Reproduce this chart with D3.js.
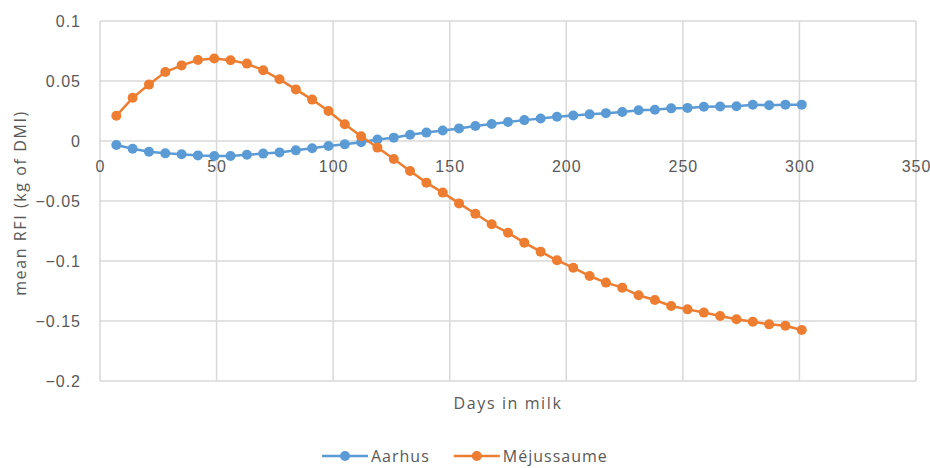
<!DOCTYPE html>
<html lang="en">
<head>
    <meta charset="UTF-8">
    <script src="https://d3js.org/d3.v7.min.js"></script>
    <style>
        body {
            margin: 0;
            background: #fff;
            font-family: "Open Sans", Arial, sans-serif;
        }
        .tick text {
            fill: #595959;
            font-size: 16px;
            letter-spacing: 1px;
        }
        .grid line {
            stroke: #d9d9d9;
            stroke-width: 1.5px;
        }
        .axis-title {
            fill: #595959;
            font-size: 16px;
            letter-spacing: 1.6px;
        }
    </style>
</head>
<body>
    <svg id="chart" width="930" height="468"></svg>

    <script>
        // days in milk (7 .. 301, weekly)
        const days = [7, 14, 21, 28, 35, 42, 49, 56, 63, 70, 77, 84, 91, 98, 105, 112, 119, 126, 133, 140, 147,
            154, 161, 168, 175, 182, 189, 196, 203, 210, 217, 224, 231, 238, 245, 252, 259, 266, 273, 280, 287, 294, 301];

        const aarhus = [-0.0033, -0.0064, -0.009, -0.0103, -0.011, -0.012, -0.0125, -0.0125, -0.0115, -0.0105, -0.0095,
            -0.0078, -0.006, -0.0042, -0.0028, -0.001, 0.0012, 0.0028, 0.0052, 0.007, 0.0088, 0.0105, 0.0125,
            0.0142, 0.0158, 0.0174, 0.0188, 0.0202, 0.0213, 0.0222, 0.0232, 0.0242, 0.0256, 0.026, 0.0272,
            0.0276, 0.0286, 0.0287, 0.029, 0.0302, 0.0298, 0.0303, 0.0303];

        const mejussaume = [0.021, 0.036, 0.047, 0.0575, 0.063, 0.0675, 0.0687, 0.0673, 0.0645, 0.059, 0.0514,
            0.043, 0.0345, 0.025, 0.014, 0.004, -0.0055, -0.015, -0.025, -0.0347, -0.043, -0.052, -0.0606,
            -0.0694, -0.0764, -0.0847, -0.0922, -0.0994, -0.1056, -0.1125, -0.118, -0.1222, -0.1286, -0.1325,
            -0.1375, -0.1403, -0.143, -0.1458, -0.1486, -0.1506, -0.1528, -0.154, -0.1575];

        const xTicks = [0, 50, 100, 150, 200, 250, 300, 350];
        const yTicks = [0.1, 0.05, 0, -0.05, -0.1, -0.15, -0.2];

        const series = [
            { name: "Aarhus", values: aarhus, color: "#5b9bd5" },
            { name: "Méjussaume", values: mejussaume, color: "#ed7d31" }
        ];

        const svg = d3.select("#chart");
        const plot = { left: 100, right: 916, top: 21, bottom: 381 };

        const x = d3.scaleLinear().domain([0, 350]).range([plot.left, plot.right]);
        const y = d3.scaleLinear().domain([-0.2, 0.1]).range([plot.bottom, plot.top]);

        // gridlines
        svg.append("g").attr("class", "grid")
            .selectAll("line").data(xTicks).enter().append("line")
            .attr("x1", d => x(d)).attr("x2", d => x(d))
            .attr("y1", plot.top).attr("y2", plot.bottom);

        svg.append("g").attr("class", "grid")
            .selectAll("line").data(yTicks).enter().append("line")
            .attr("x1", plot.left).attr("x2", plot.right)
            .attr("y1", d => y(d)).attr("y2", d => y(d));

        // y axis labels
        const yAxis = svg.append("g")
            .attr("transform", `translate(${plot.left - 19},0)`)
            .call(d3.axisLeft(y).tickValues(yTicks).tickSize(0).tickPadding(0).tickFormat(d => d3.format("")(+d.toFixed(2))));
        yAxis.select(".domain").remove();
        yAxis.selectAll("text").attr("text-anchor", "end");

        // x axis labels sit under the zero line
        const xAxis = svg.append("g")
            .attr("transform", `translate(0,${y(0)})`)
            .call(d3.axisBottom(x).tickValues(xTicks).tickSize(0).tickPadding(20));
        xAxis.select(".domain").remove();

        // lines + markers
        const line = d3.line()
            .x((d, i) => x(days[i]))
            .y(d => y(d));

        series.forEach(s => {
            svg.append("path")
                .datum(s.values)
                .attr("fill", "none")
                .attr("stroke", s.color)
                .attr("stroke-width", 2.5)
                .attr("d", line);

            svg.append("g")
                .selectAll("circle")
                .data(s.values)
                .enter().append("circle")
                .attr("cx", (d, i) => x(days[i]))
                .attr("cy", d => y(d))
                .attr("r", 5)
                .attr("fill", s.color);
        });

        // axis titles
        svg.append("text")
            .attr("class", "axis-title")
            .attr("transform", `translate(26,${(plot.top + plot.bottom) / 2 + 2}) rotate(-90)`)
            .attr("text-anchor", "middle")
            .text("mean RFI (kg of DMI)");

        svg.append("text")
            .attr("class", "axis-title")
            .attr("x", 508)
            .attr("y", 409)
            .attr("text-anchor", "middle")
            .text("Days in milk");

        // legend
        const legend = svg.append("g").attr("transform", "translate(322,456)");
        let lx = 0;
        series.forEach(s => {
            const g = legend.append("g").attr("transform", `translate(${lx},0)`);
            g.append("line").attr("x1", 0).attr("x2", 46).attr("y1", 0).attr("y2", 0)
                .attr("stroke", s.color).attr("stroke-width", 2.5);
            g.append("circle").attr("cx", 23).attr("cy", 0).attr("r", 5).attr("fill", s.color);
            const t = g.append("text").attr("x", 49).attr("y", 6)
                .attr("fill", "#595959").style("font-size", "16px").style("letter-spacing", "1px")
                .text(s.name);
            lx += 49 + t.node().getComputedTextLength() + 24;
        });
    </script>
</body>
</html>
